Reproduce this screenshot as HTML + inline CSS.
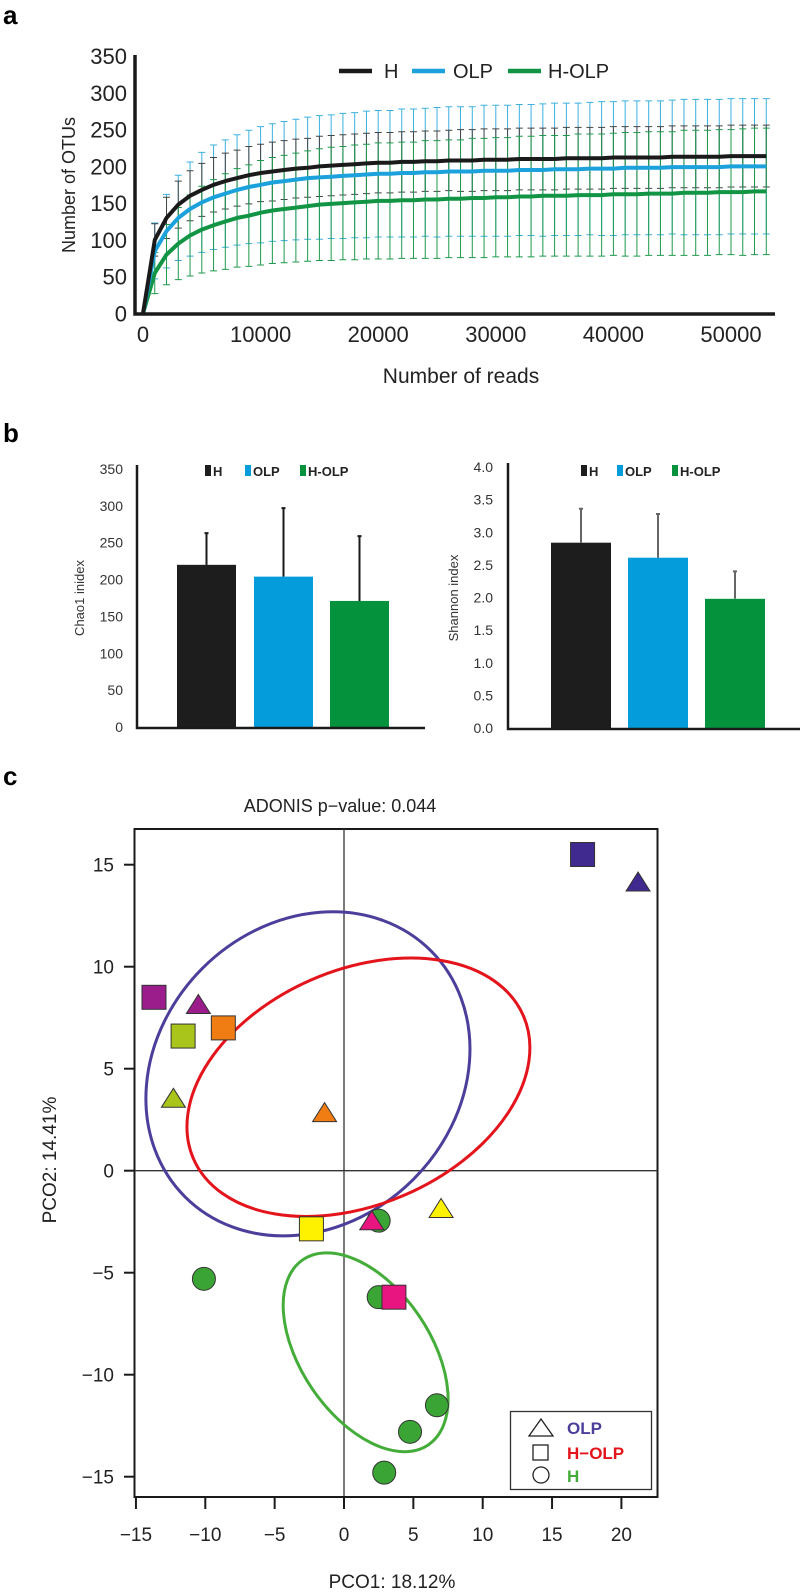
<!DOCTYPE html>
<html><head><meta charset="utf-8"><style>
html,body{margin:0;padding:0;background:#fff;}
svg{display:block;font-family:"Liberation Sans",Arial,sans-serif;}
</style></head><body>
<svg id="fig" width="800" height="1592" viewBox="0 0 800 1592">
<text x="3" y="24" font-size="26" font-weight="bold">a</text>
<text x="3" y="442" font-size="26" font-weight="bold">b</text>
<text x="3" y="785" font-size="26" font-weight="bold">c</text>
<g id="pa"></g>
<g id="pb1"></g>
<g id="pb2"></g>
<g id="pc"></g>
</svg>
<script>
// ---------- Panel a data ----------
const readsStep = 1000;
const meanH = [0,100,130,148,160,168,175,180,184,188,191,193,195,197,198,200,201,202,203,204,205,205,206,206,207,207,208,208,208,209,209,209,210,210,210,210,211,211,211,211,212,212,212,212,212,213,213,213,213,213,214,214,214,214];
const sdH = [0,22,28,32,34,36,37,38,38,39,39,40,40,40,40,41,41,41,41,41,41,41,41,41,41,41,41,42,42,42,42,42,42,42,42,42,42,42,42,42,42,42,42,42,42,42,42,42,42,42,42,42,42,42];
const meanOLP = [0,85,112,130,142,151,158,163,168,172,175,178,180,182,184,185,186,187,188,189,190,190,191,191,192,192,193,193,193,194,194,194,195,195,195,196,196,196,197,197,197,198,198,198,198,199,199,199,199,199,200,200,200,200];
const sdOLP = [0,38,50,58,64,68,71,73,75,77,79,80,81,82,83,84,84,85,85,86,86,86,87,87,87,88,88,88,88,89,89,89,89,89,90,90,90,90,90,91,91,91,91,91,91,91,92,92,92,92,92,92,92,92];
const meanHOLP = [0,55,80,95,106,114,120,125,130,133,137,140,142,144,146,148,149,150,151,152,153,153,154,154,155,155,156,156,157,157,158,158,159,159,160,160,160,161,161,161,162,162,162,163,163,163,164,164,164,165,165,165,166,166];
const sdHOLP = [0,28,41,49,55,59,62,65,67,69,71,72,73,74,75,76,77,77,78,78,79,79,79,79,80,80,80,80,81,81,81,81,82,82,82,82,82,83,83,83,83,84,84,84,84,84,85,85,85,85,85,86,86,86];
const aYTicks = [0,50,100,150,200,250,300,350];
const aXTicks = [0,10000,20000,30000,40000,50000];

// ---------- Panel b data ----------
const groups = ["H","OLP","H-OLP"];
const chaoVals = [220,204,171];
const chaoErr = [43,93,88];
const chaoTicks = [0,50,100,150,200,250,300,350];
const shanVals = [2.84,2.61,1.98];
const shanErr = [0.52,0.67,0.42];
const shanTicks = [0,0.5,1,1.5,2,2.5,3,3.5,4];

// ---------- Panel c data ----------
const ptX = [-13.7,-10.5,-8.7,-11.6,-12.3,-1.4,-2.35,2.5,2.0,7.0,-10.1,2.5,3.6,6.7,4.76,2.9,17.2,21.2];
const ptY = [8.5,8.1,7.0,6.6,3.5,2.8,-2.85,-2.45,-2.5,-1.9,-5.3,-6.2,-6.2,-11.5,-12.8,-14.8,15.5,14.1];
const ptShape = ["s","t","s","s","t","t","s","c","t","t","c","c","s","c","c","c","s","t"];
const ptColor = ["#9b1c8b","#9b1c8b","#ef7d14","#a9c41a","#a9c41a","#ef7d14","#fff200","#3aa535","#e8147f","#fff200","#3aa535","#3aa535","#e8147f","#3aa535","#3aa535","#3aa535","#40298f","#40298f"];
const ellCX = [-2.6,1.04,1.56];
const ellCY = [4.75,4.09,-8.9];
const cXTicks = [-15,-10,-5,0,5,10,15,20];
const cYTicks = [-15,-10,-5,0,5,10,15];

const NS="http://www.w3.org/2000/svg";
function mk(parent,tag,attrs,text){const e=document.createElementNS(NS,tag);for(const k in attrs)e.setAttribute(k,attrs[k]);if(text!==undefined)e.textContent=text;parent.appendChild(e);return e;}

// ===== Panel a =====
(function(){
const g=document.getElementById('pa');
const xs=v=>143+v*0.01176, ys=v=>313.5-v*0.7357;
const series=[{m:meanOLP,s:sdOLP,c:"#1ba1dc",ec:"#3bb0e0",n:"olp"},{m:meanH,s:sdH,c:"#1a1a1a",ec:"#444",n:"h"},{m:meanHOLP,s:sdHOLP,c:"#119443",ec:"#1f9a4c",n:"h-olp"}];
series.forEach(sr=>{
  for(let i=1;i<sr.m.length;i++){
    const x=xs(i*readsStep), y1=ys(sr.m[i]+sr.s[i]), y2=ys(sr.m[i]-sr.s[i]);
    const eb=mk(g,'path',{d:`M${x} ${y1}V${y2}M${x-3.5} ${y1}h7M${x-3.5} ${y2}h7`,stroke:sr.ec,'stroke-width':1,fill:'none'});
    
    
  }
});
[series[2],series[0],series[1]].forEach(sr=>{
  let d='';
  for(let i=0;i<sr.m.length;i++){d+=(i?'L':'M')+xs(i*readsStep).toFixed(1)+' '+ys(sr.m[i]).toFixed(1);}
  const p=mk(g,'path',{d:d,stroke:sr.c,'stroke-width':4,fill:'none','stroke-linejoin':'round'});
  
  
});
const ax=mk(g,'path',{d:'M135 55V314H775',stroke:'#1a1a1a','stroke-width':3.5,fill:'none'});


aYTicks.forEach(v=>{const t=mk(g,'text',{x:127,y:ys(v)+8,'font-size':22,'text-anchor':'end',fill:'#222'},String(v));

});
aXTicks.forEach(v=>{const t=mk(g,'text',{x:xs(v),y:342,'font-size':22,'text-anchor':'middle',fill:'#222'},String(v));

});
const yl=mk(g,'text',{x:0,y:0,'font-size':18,'text-anchor':'middle',transform:'translate(75,185) rotate(-90)',fill:'#222'},'Number of OTUs');


const xl=mk(g,'text',{x:461,y:383,'font-size':21,'text-anchor':'middle',fill:'#222'},'Number of reads');


const leg=[["H",339,384,"#1a1a1a"],["OLP",412,453,"#1ba1dc"],["H-OLP",508,548,"#119443"]];
leg.forEach(l=>{const gg=mk(g,'g',{});


mk(gg,'line',{x1:l[1],x2:l[1]+33,y1:71,y2:71,stroke:l[3],'stroke-width':4.5});
mk(gg,'text',{x:l[2],y:78,'font-size':20,fill:'#222'},l[0]);});
})();

// ===== Panel b =====
function barChart(id,vals,errs,ticks,maxV,axX,axRight,y0,yTop,barX,barW,ec,ylab,ylabX,legX,tickRight,fmt){
const g=document.getElementById(id);
const ys=v=>y0-(v/maxV)*(y0-yTop);
const cols=["#1d1d1d","#049cdb","#05923d"];
vals.forEach((v,i)=>{
  const r=mk(g,'rect',{x:barX[i],y:ys(v),width:barW,height:y0-ys(v),fill:cols[i]});
  
  
  const cx=barX[i]+barW/2;
  const e=mk(g,'path',{d:`M${cx} ${ys(v)}V${ys(v+errs[i])}M${cx-2} ${ys(v+errs[i])}h4`,stroke:ec,'stroke-width':2});
  
  
});
const ax=mk(g,'path',{d:`M${axX} ${yTop-4}V${y0+1}H${axRight}`,stroke:'#1a1a1a','stroke-width':2.5,fill:'none'});


ticks.forEach(v=>{const t=mk(g,'text',{x:tickRight,y:ys(v)+5,'font-size':14,'text-anchor':'end',fill:'#333'},fmt(v));

});
const yl=mk(g,'text',{x:0,y:0,'font-size':13,'text-anchor':'middle',transform:`translate(${ylabX},598) rotate(-90)`,fill:'#333'},ylab);


groups.forEach((gname,i)=>{const gg=mk(g,'g',{});


mk(gg,'rect',{x:legX[i],y:465,width:6,height:11,fill:cols[i]});
mk(gg,'text',{x:legX[i]+8,y:476,'font-size':13,'font-weight':'bold',fill:'#222'},gname);});
}
barChart('pb1',chaoVals,chaoErr,chaoTicks,350,137,425,727,469,[177,254,330],59,'#1a1a1a','Chao1 inidex',84,[205,245,300],123,v=>String(v));
barChart('pb2',shanVals,shanErr,shanTicks,4,508,800,728,467,[551,628,705],60,'#666','Shannon index',458,[581,617,672],493,v=>v.toFixed(1));

// ===== Panel c =====
(function(){
const g=document.getElementById('pc');
const xs=v=>344+v*13.87, ys=v=>1170.7-v*20.4;
const t=mk(g,'text',{x:340,y:812,'font-size':18,'text-anchor':'middle',fill:'#222'},'ADONIS p\u2212value: 0.044');


const box=mk(g,'rect',{x:134.5,y:829,width:523,height:668,fill:'none',stroke:'#1a1a1a','stroke-width':2});


const zl=mk(g,'path',{d:`M${xs(0)} 829V1497M134.5 ${ys(0)}H657.5`,stroke:'#333','stroke-width':1.3});


const ellR=[[173.9,149.2,-45,"#4b3f9b","olp"],[179.8,117.3,-23.4,"#e3141b","h-olp"],[111.8,64.7,55.9,"#44ad3a","h"]];
ellR.forEach((e,i)=>{const cx=xs(ellCX[i]),cy=ys(ellCY[i]);
const el=mk(g,'ellipse',{cx:cx,cy:cy,rx:e[0],ry:e[1],transform:`rotate(${e[2]} ${cx} ${cy})`,fill:'none',stroke:e[3],'stroke-width':3});

});
// draw circles first, then others
const order=[...ptX.keys()].sort((a,b)=>(ptShape[a]==='c'?0:1)-(ptShape[b]==='c'?0:1));
order.forEach(i=>{const x=xs(ptX[i]),y=ys(ptY[i]);let m;
 if(ptShape[i]==='s') m=mk(g,'rect',{x:x-12,y:y-12,width:24,height:24,fill:ptColor[i],stroke:'#333','stroke-width':1});
 else if(ptShape[i]==='t') m=mk(g,'path',{d:`M${x} ${y-11}L${x+12} ${y+8}H${x-12}Z`,fill:ptColor[i],stroke:'#333','stroke-width':1});
 else m=mk(g,'circle',{cx:x,cy:y,r:11.5,fill:ptColor[i],stroke:'#333','stroke-width':1});
 
 });
const xa=mk(g,'path',{d:`M134.5 1497H657.5`,stroke:'#1a1a1a','stroke-width':2});


cXTicks.forEach(v=>{const x=xs(v);mk(g,'line',{x1:x,x2:x,y1:1497,y2:1509,stroke:'#1a1a1a','stroke-width':2});
const l=mk(g,'text',{x:x,y:1541,'font-size':19,'text-anchor':'middle',fill:'#222'},v<0?'\u2212'+(-v):String(v));

});
cYTicks.forEach(v=>{const y=ys(v);mk(g,'line',{x1:124,x2:134.5,y1:y,y2:y,stroke:'#1a1a1a','stroke-width':2});
const l=mk(g,'text',{x:114,y:y+7,'font-size':19,'text-anchor':'end',fill:'#222'},v<0?'\u2212'+(-v):String(v));

});
const xl=mk(g,'text',{x:392,y:1588,'font-size':19,'text-anchor':'middle',fill:'#222'},'PCO1: 18.12%');


const yl=mk(g,'text',{x:0,y:0,'font-size':19,'text-anchor':'middle',transform:'translate(56,1160) rotate(-90)',fill:'#222'},'PCO2: 14.41%');


const lg=mk(g,'g',{});


mk(lg,'rect',{x:510.5,y:1411.5,width:141,height:78,fill:'#fff',stroke:'#333','stroke-width':1.3});
mk(lg,'path',{d:'M541 1419L553 1436H529Z',fill:'none',stroke:'#222','stroke-width':1.3});
mk(lg,'rect',{x:533,y:1445,width:15,height:15,fill:'none',stroke:'#222','stroke-width':1.3});
mk(lg,'circle',{cx:541,cy:1475,r:8,fill:'none',stroke:'#222','stroke-width':1.3});
mk(lg,'text',{x:567,y:1434,'font-size':17,'font-weight':'bold',fill:'#4b3f9b'},'OLP');
mk(lg,'text',{x:567,y:1459,'font-size':17,'font-weight':'bold',fill:'#e3141b'},'H\u2212OLP');
mk(lg,'text',{x:567,y:1482,'font-size':17,'font-weight':'bold',fill:'#44ad3a'},'H');
})();
</script>
</body></html>
